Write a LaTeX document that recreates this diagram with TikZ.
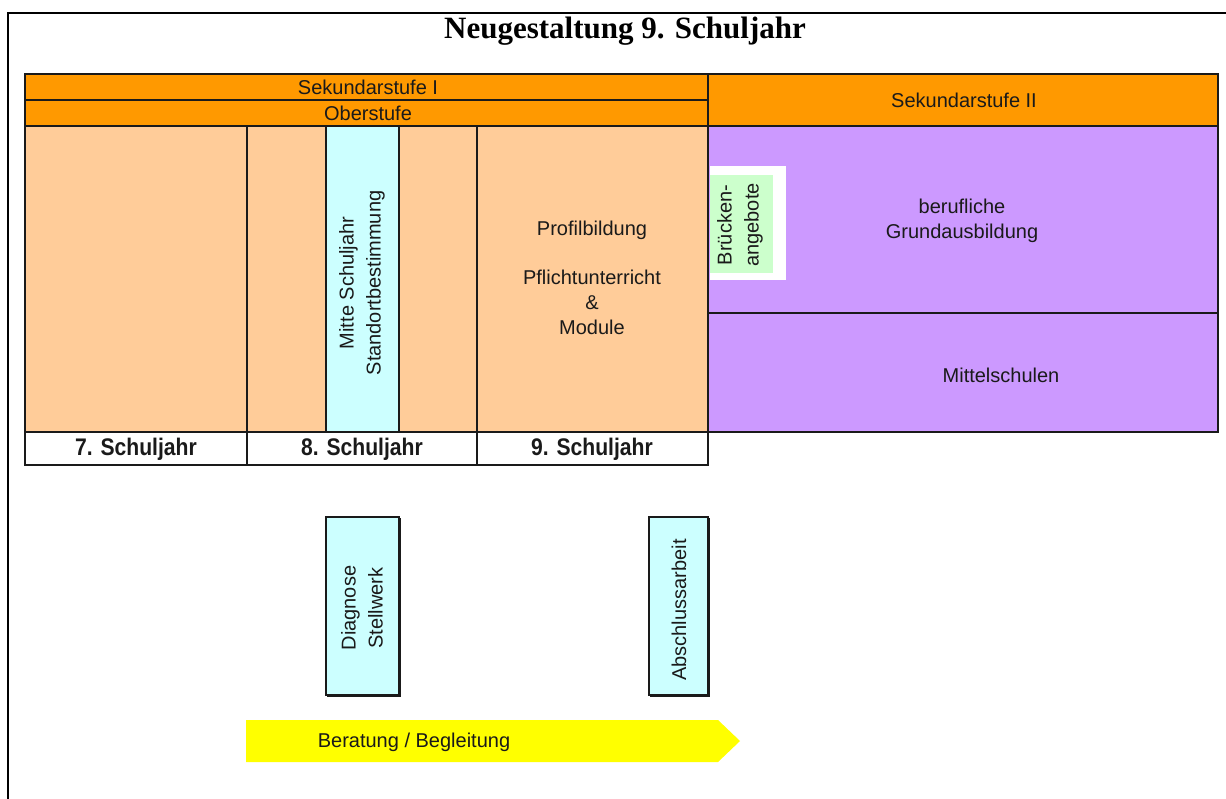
\documentclass[tikz,border=0pt]{standalone}
\usepackage{fontspec}
\setmainfont{Liberation Sans}
\newfontfamily\titlefont{Liberation Serif}
\newfontfamily\yearfont[FakeStretch=0.88]{Liberation Sans}
\definecolor{hdrorange}{HTML}{FF9900}
\definecolor{peach}{HTML}{FFCC99}
\definecolor{lav}{HTML}{CC99FF}
\definecolor{lcyan}{HTML}{CCFFFF}
\definecolor{lgreen}{HTML}{CCFFCC}
\definecolor{yel}{HTML}{FFFF00}
\definecolor{txt}{HTML}{1A1A1A}
\tikzset{
  grid/.style={draw=txt, line width=1.5pt},
  frame/.style={draw=txt, line width=2.4pt},
  lbl/.style={inner sep=0pt, text=txt, font=\fontsize{20}{25}\selectfont, align=center},
  vlbl/.style={lbl, rotate=90, font=\fontsize{20}{27}\selectfont},
  yearlbl/.style={inner sep=0pt, text=txt, font=\yearfont\bfseries\fontsize{24}{28}\selectfont},
  shadowbox/.style={fill=lcyan, draw=txt, line width=1.5pt}
}
\begin{document}
\begin{tikzpicture}[x=1pt,y=-1pt]
\useasboundingbox (0,0) rectangle (1226,799);
\fill[white] (0,0) rectangle (1226,799);
% outer frame
\draw[line width=2.5pt] (8,800) -- (8,13) -- (1227,13);
% title
\node[inner sep=0pt, font=\titlefont\bfseries\fontsize{31}{36}\selectfont] (title) at (625,31) {Neugestaltung 9. Schuljahr};
% header band
\fill[hdrorange] (25,74) rectangle (1218,126);
\draw[grid] (25,100) -- (708,100);
\draw[frame] (708,74) -- (708,126);
\draw[frame] (25,74) rectangle (1218,126);
\node[lbl] (sek1) at (368,87) {Sekundarstufe I};
\node[lbl] (ober) at (368,113) {Oberstufe};
\node[lbl] (sek2) at (964,100) {Sekundarstufe II};
% main area
\fill[peach] (25,126) rectangle (708,432);
\fill[lcyan] (326,126) rectangle (399,432);
\fill[lav] (708,126) rectangle (1218,432);
\draw[grid] (247,126) -- (247,432);
\draw[grid] (326,126) -- (326,432);
\draw[frame] (399,126) -- (399,432);
\draw[grid] (477,126) -- (477,432);
\draw[frame] (708,313) -- (1218,313);
\draw[frame] (25,126) rectangle (708,432);
\draw[frame] (708,126) rectangle (1218,432);
% Brueckenangebote
\fill[white] (710,166) rectangle (786,280);
\fill[lgreen] (710,175) rectangle (773,273);
\node[vlbl] (bruecke) at (740,225) {Brücken-\\angebote};
% texts in main area
\node[vlbl] (mitte) at (362,283) {Mitte Schuljahr\\Standortbestimmung};
\node[lbl] (profil) at (592,278) {Profilbildung\\[24pt]Pflichtunterricht\\\&\\Module};
\node[lbl] (beruf) at (962,221) {berufliche\\Grundausbildung};
\node[lbl] (mittel) at (1001,375) {Mittelschulen};
% year row
\fill[white] (25,432) rectangle (708,465);
\draw[grid] (247,432) -- (247,465);
\draw[grid] (477,432) -- (477,465);
\draw[frame] (25,432) rectangle (708,465);
\node[yearlbl] (y7) at (136,449) {7. Schuljahr};
\node[yearlbl] (y8) at (362,449) {8. Schuljahr};
\node[yearlbl] (y9) at (592,449) {9. Schuljahr};
% lower boxes
\path[shadowbox] (326,517) rectangle (399,695);
\draw[txt, line width=2pt] (400,518) -- (400,696) -- (327,696);
\node[vlbl] (diag) at (362,608) {Diagnose\\Stellwerk};
\path[shadowbox] (649,517) rectangle (708,695);
\draw[txt, line width=2pt] (709,518) -- (709,696) -- (650,696);
\node[vlbl] (absch) at (679,610) {Abschlussarbeit};
% arrow
\fill[yel] (246,720) -- (718,720) -- (740,741) -- (718,762) -- (246,762) -- cycle;
\node[lbl] (berat) at (414,742) {Beratung / Begleitung};
\end{tikzpicture}
\end{document}
